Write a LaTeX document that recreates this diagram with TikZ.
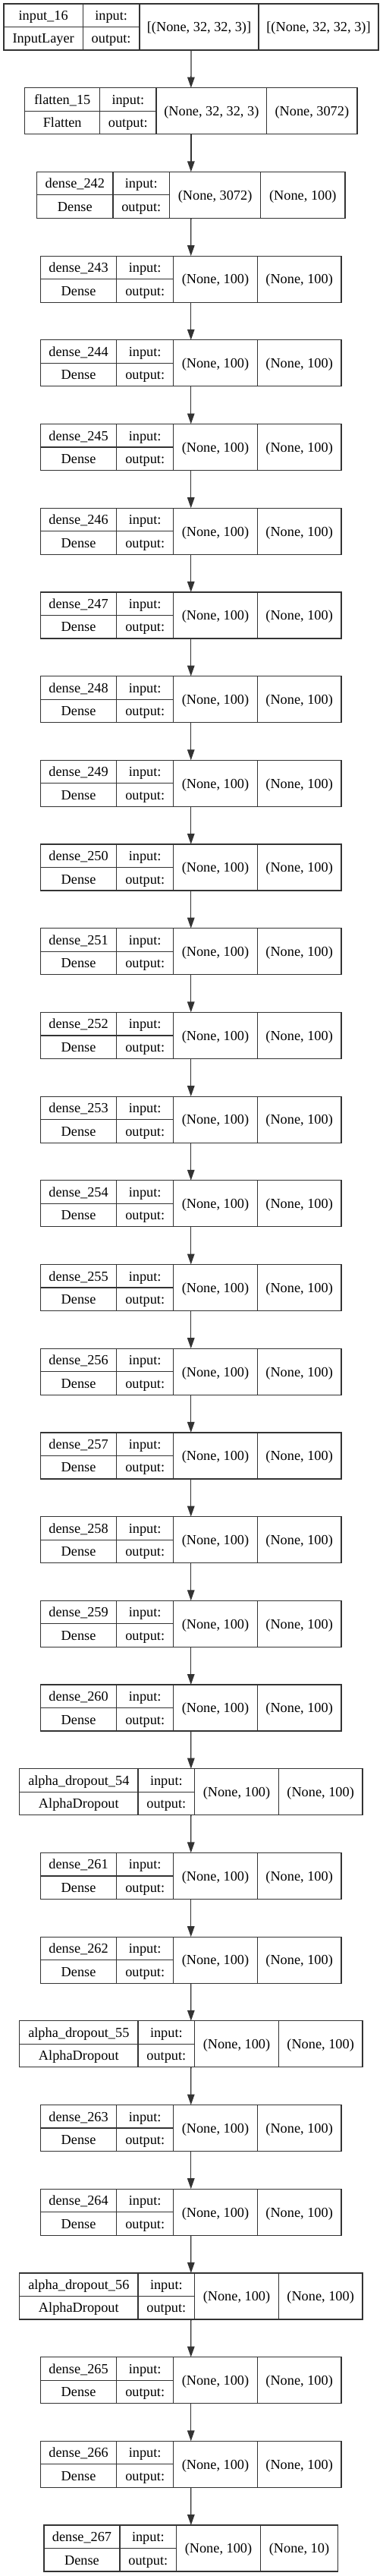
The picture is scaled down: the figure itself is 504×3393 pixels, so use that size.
\documentclass[tikz,border=0pt]{standalone}
\usepackage{fontspec}
\setmainfont{Liberation Serif}
\usetikzlibrary{arrows.meta}
\tikzset{
  x=1pt, y=1pt,
  box/.style={draw=lc, line width=1.2pt, inner sep=0pt, outer sep=0pt, anchor=north west},
  sep/.style={draw=lc, line width=1.2pt},
  txt/.style={anchor=base, inner sep=0pt, font=\fontsize{18.3}{20}\selectfont, text=black},
  arr/.style={draw=lc, line width=1.3pt, -{Triangle[length=14pt,width=9.5pt]}},
}
\definecolor{lc}{HTML}{333333}
\newcommand\setgeo[5]{\def\xa{#1}\def\xb{#2}\def\xc{#3}\def\xd{#4}\def\xe{#5}}
\newcommand\layer[6]{%
  \pgfmathsetmacro\yt{-(5+#2*110.7)}%
  \pgfmathsetmacro\yb{\yt-61}%
  \pgfmathsetmacro\ym{\yt-30.5}%
  \pgfmathsetmacro\boxw{\xe-\xa}%
  \node[box, minimum width=\boxw pt, minimum height=61pt] (#1) at (\xa,\yt) {};
  \draw[sep] (\xb,\yt) -- (\xb,\yb) (\xc,\yt) -- (\xc,\yb) (\xd,\yt) -- (\xd,\yb) (\xa,\ym) -- (\xc,\ym);
  \node[txt] (#1-name) at ({(\xa+\xb)/2},{\yt-21.5}) {#3};
  \node[txt] (#1-class) at ({(\xa+\xb)/2},{\yt-52}) {#4};
  \node[txt] (#1-inl) at ({(\xb+\xc)/2},{\yt-21.5}) {input:};
  \node[txt] (#1-outl) at ({(\xb+\xc)/2},{\yt-52}) {output:};
  \node[txt] (#1-in) at ({(\xc+\xd)/2},{\yt-36.8}) {#5};
  \node[txt] (#1-out) at ({(\xd+\xe)/2},{\yt-36.8}) {#6};
}
\begin{document}
\begin{tikzpicture}
\fill[white] (0,0) rectangle (504,-3393);
\useasboundingbox (0,0) rectangle (504,-3393);
\setgeo{5}{109.3}{184}{341}{499}
\layer{L0}{0}{input\_16}{InputLayer}{[(None, 32, 32, 3)]}{[(None, 32, 32, 3)]}
\setgeo{32.7}{131.7}{206}{351.7}{471}
\layer{L1}{1}{flatten\_15}{Flatten}{(None, 32, 32, 3)}{(None, 3072)}
\setgeo{48.7}{149}{223.5}{343.7}{455}
\layer{L2}{2}{dense\_242}{Dense}{(None, 3072)}{(None, 100)}
\setgeo{53.5}{153.7}{228.7}{339.3}{450}
\foreach \i [evaluate=\i as \n using int(\i+240)] in {3,...,20}{
  \layer{L\i}{\i}{dense\_\n}{Dense}{(None, 100)}{(None, 100)}
}
\setgeo{25.7}{182}{256.7}{367.3}{478}
\layer{L21}{21}{alpha\_dropout\_54}{AlphaDropout}{(None, 100)}{(None, 100)}
\setgeo{53.5}{153.7}{228.7}{339.3}{450}
\layer{L22}{22}{dense\_261}{Dense}{(None, 100)}{(None, 100)}
\layer{L23}{23}{dense\_262}{Dense}{(None, 100)}{(None, 100)}
\setgeo{25.7}{182}{256.7}{367.3}{478}
\layer{L24}{24}{alpha\_dropout\_55}{AlphaDropout}{(None, 100)}{(None, 100)}
\setgeo{53.5}{153.7}{228.7}{339.3}{450}
\layer{L25}{25}{dense\_263}{Dense}{(None, 100)}{(None, 100)}
\layer{L26}{26}{dense\_264}{Dense}{(None, 100)}{(None, 100)}
\setgeo{25.7}{182}{256.7}{367.3}{478}
\layer{L27}{27}{alpha\_dropout\_56}{AlphaDropout}{(None, 100)}{(None, 100)}
\setgeo{53.5}{153.7}{228.7}{339.3}{450}
\layer{L28}{28}{dense\_265}{Dense}{(None, 100)}{(None, 100)}
\layer{L29}{29}{dense\_266}{Dense}{(None, 100)}{(None, 100)}
\setgeo{58}{158}{232.7}{343.3}{445.7}
\layer{L30}{30}{dense\_267}{Dense}{(None, 100)}{(None, 10)}
\foreach \i [evaluate=\i as \j using int(\i+1)] in {0,...,29}{
  \draw[arr] (L\i.south) -- (L\j.north);
}
\end{tikzpicture}
\end{document}
